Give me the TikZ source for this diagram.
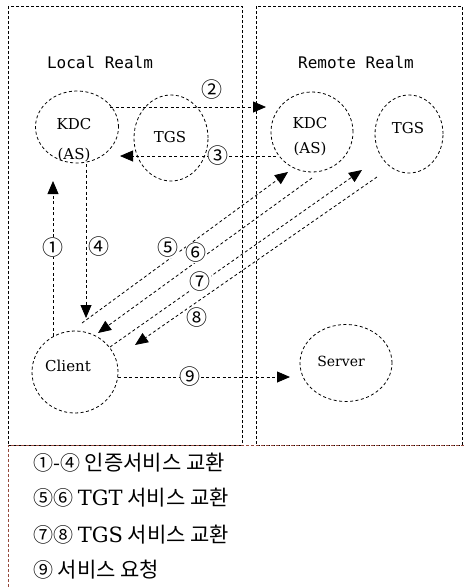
\documentclass[tikz,border=0pt]{standalone}
\usepackage{fontspec}
\setmainfont{DejaVu Serif}
\newfontfamily\krfont{Noto Sans CJK KR}
\newfontfamily\realmfont{DejaVu Sans Mono}
\usetikzlibrary{shapes.geometric,arrows.meta}
\definecolor{legendline}{RGB}{150,72,60}
\newcommand{\cn}[1]{{\fontsize{20}{20}\selectfont #1}}

\begin{document}
\begin{tikzpicture}[x=1pt,y=-1pt,>={Triangle[length=13pt,width=11pt]},
    realm/.style={draw,dash pattern=on 3pt off 2pt,line width=0.9pt},
    svc/.style={ellipse,draw,dash pattern=on 3pt off 2.5pt,line width=0.8pt,inner sep=0pt},
    msg/.style={->,dash pattern=on 3pt off 2.5pt,line width=0.8pt},
    num/.style={font=\krfont\fontsize{21}{21}\selectfont,inner sep=0pt,fill=white},
    svctext/.style={font=\fontsize{15}{18}\selectfont,align=center,inner sep=0pt},
    realmtext/.style={font=\realmfont\fontsize{16}{16}\selectfont},
    legend/.style={anchor=west,font=\krfont\fontsize{21}{21}\selectfont,inner sep=0pt}]
    \useasboundingbox (0,0) rectangle (464,587);

    % realms
    \draw[realm] (8,6) rectangle (242,445);
    \draw[realm] (256,6) rectangle (462,445);
    \draw[legendline,dash pattern=on 3pt off 2pt,line width=0.8pt] (8,587) -- (8,445) -- (464,445);
    \node[realmtext] (localname) at (100,62) {Local Realm};
    \node[realmtext] (remotename) at (356,62) {Remote Realm};

    % services
    \node[svc,minimum width=83pt,minimum height=72pt] (kdcL) at (77,127) {};
    \node[svc,minimum width=74pt,minimum height=86pt] (tgsL) at (171,138) {};
    \node[svc,minimum width=82pt,minimum height=80pt] (kdcR) at (312,132) {};
    \node[svc,minimum width=68pt,minimum height=78pt] (tgsR) at (409,134) {};
    \node[svc,minimum width=86pt,minimum height=82pt] (client) at (75,372) {};
    \node[svc,minimum width=92pt,minimum height=77pt] (server) at (346,363) {};

    \node[svctext] (kdcLtxt) at (74,140) {KDC\\[12pt](AS)};
    \node[svctext] (tgsLtxt) at (170,137) {TGS};
    \node[svctext] (kdcRtxt) at (310,137) {KDC\\[7pt](AS)};
    \node[svctext] (tgsRtxt) at (408,128) {TGS};
    \node[svctext] (clienttxt) at (68,366) {Client};
    \node[svctext,font=\fontsize{14}{16}\selectfont] (servertxt) at (341,361) {Server};

    % message ends
    \coordinate (m1s) at (53,336);  \coordinate (m1e) at (53,181);
    \coordinate (m2s) at (110,107); \coordinate (m2e) at (266,107);
    \coordinate (m3s) at (276,156); \coordinate (m3e) at (120,156);
    \coordinate (m4s) at (86,164);  \coordinate (m4e) at (86,318);
    \coordinate (m5s) at (82,323);  \coordinate (m5e) at (288,172);
    \coordinate (m6s) at (312,178); \coordinate (m6e) at (98,333);
    \coordinate (m7s) at (110,347); \coordinate (m7e) at (362,170);
    \coordinate (m8s) at (377,177); \coordinate (m8e) at (135,345);
    \coordinate (m9s) at (118,377); \coordinate (m9e) at (290,377);

    % messages
    \draw[msg] (m1s) -- node[num,pos=0.57] (n1) {①} (m1e);
    \draw[msg] (m2s) -- (m2e);
    \draw[msg] (m3s) -- node[num,pos=0.37] (n3) {③} (m3e);
    \draw[msg] (m4s) -- (m4e);
    \draw[msg] (m5s) -- (m5e);
    \draw[msg] (m6s) -- (m6e);
    \draw[msg] (m7s) -- (m7e);
    \draw[msg] (m8s) -- (m8e);
    \draw[msg] (m9s) -- node[num,pos=0.42] (n9) {⑨} (m9e);
    \node[num] (n2) at (212,90) {②};
    \node[num] (n4) at (99,247) {④};
    \node[num] (n5) at (168,248) {⑤};
    \node[num] (n6) at (196,253) {⑥};
    \node[num] (n7) at (200,282) {⑦};
    \node[num] (n8) at (197,318) {⑧};

    % legend
    \node[legend] (leg1) at (33,463) {\cn{①-④} 인증서비스 교환};
    \node[legend] (leg2) at (33,498) {\cn{⑤⑥} {\rmfamily TGT} 서비스 교환};
    \node[legend] (leg3) at (33,535) {\cn{⑦⑧} {\rmfamily TGS} 서비스 교환};
    \node[legend] (leg4) at (33,570) {\cn{⑨} 서비스 요청};
\end{tikzpicture}
\end{document}
